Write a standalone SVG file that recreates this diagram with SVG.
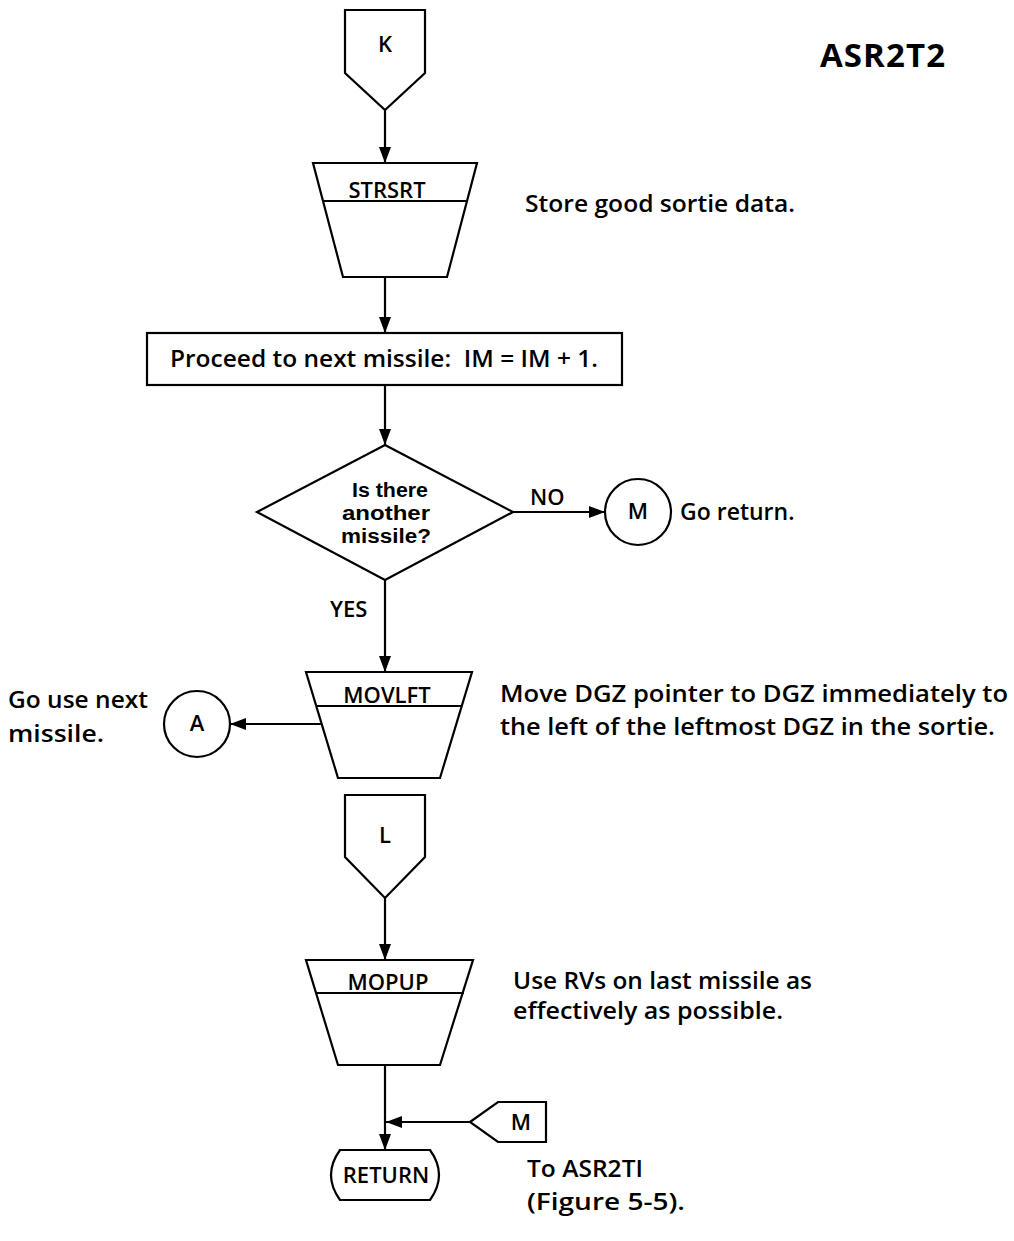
<svg xmlns="http://www.w3.org/2000/svg" width="1014" height="1241" viewBox="0 0 1014 1241">
  <style>
    .shape { fill: none; stroke: #000; stroke-width: 2.2; stroke-linejoin: miter; }
    .wire { fill: none; stroke: #000; stroke-width: 2.2; }
    text { font-family: "Open Sans", "Liberation Sans", sans-serif; font-weight: 600; fill: #000; font-size: 23px; }
    .mid { text-anchor: middle; }
    .lbl { font-size: 22px; }
    .dec { font-family: "Liberation Sans", "Open Sans", sans-serif; font-weight: 700; font-size: 20px; }
    .title { font-size: 33px; font-weight: 700; }
  </style>
  <defs>
    <marker id="arrow" viewBox="0 0 16 12" refX="16" refY="6" markerWidth="16" markerHeight="12" markerUnits="userSpaceOnUse" orient="auto">
      <path d="M0,0 L16,6 L0,12 Z" fill="#000"/>
    </marker>
  </defs>
  <rect width="1014" height="1241" fill="#fff"/>

  <text class="title" x="820" y="67" textLength="125">ASR2T2</text>

  <!-- flow lines -->
  <g id="connectors">
    <line class="wire" x1="385" y1="110" x2="385" y2="163" marker-end="url(#arrow)"/>
    <line class="wire" x1="385" y1="277" x2="385" y2="333" marker-end="url(#arrow)"/>
    <line class="wire" x1="385" y1="385" x2="385" y2="445" marker-end="url(#arrow)"/>
    <line class="wire" x1="513" y1="512" x2="605" y2="512" marker-end="url(#arrow)"/>
    <line class="wire" x1="385" y1="580" x2="385" y2="672" marker-end="url(#arrow)"/>
    <line class="wire" x1="322" y1="724" x2="230" y2="724" marker-end="url(#arrow)"/>
    <line class="wire" x1="385" y1="898" x2="385" y2="960" marker-end="url(#arrow)"/>
    <line class="wire" x1="385" y1="1065" x2="385" y2="1150" marker-end="url(#arrow)"/>
    <line class="wire" x1="470" y1="1122" x2="386" y2="1122" marker-end="url(#arrow)"/>
    <text class="lbl" x="530" y="505">NO</text>
    <text class="lbl" x="330" y="617">YES</text>
  </g>

  <!-- entry connector K -->
  <g id="node-k">
    <polygon class="shape" points="345,10 425,10 425,73 385,110 345,73"/>
    <text class="mid lbl" x="385" y="52">K</text>
  </g>

  <!-- STRSRT -->
  <g id="node-strsrt">
    <polygon class="shape" points="313,163 477,163 447,277 343,277"/>
    <line class="shape" x1="323" y1="201" x2="467" y2="201"/>
    <text class="mid lbl" x="387" y="198">STRSRT</text>
    <text x="525" y="212" textLength="270" lengthAdjust="spacingAndGlyphs">Store good sortie data.</text>
  </g>

  <!-- increment missile -->
  <g id="node-next">
    <rect class="shape" x="147" y="333" width="475" height="52"/>
    <text x="170" y="367" textLength="428" lengthAdjust="spacingAndGlyphs">Proceed to next missile:&#160; IM = IM + 1.</text>
  </g>

  <!-- decision -->
  <g id="node-decision">
    <polygon class="shape" points="385,445 513,512 385,580 257,512"/>
    <text class="mid dec" x="390" y="497" textLength="76" lengthAdjust="spacingAndGlyphs">Is there</text>
    <text class="mid dec" x="386" y="520" textLength="88" lengthAdjust="spacingAndGlyphs">another</text>
    <text class="mid dec" x="386" y="543" textLength="90" lengthAdjust="spacingAndGlyphs">missile?</text>
  </g>

  <!-- M exit -->
  <g id="node-m-out">
    <circle class="shape" cx="638" cy="512" r="33"/>
    <text class="mid lbl" x="638" y="519">M</text>
    <text x="680" y="520">Go return.</text>
  </g>

  <!-- MOVLFT -->
  <g id="node-movlft">
    <polygon class="shape" points="306,672 472,672 440,778 338,778"/>
    <line class="shape" x1="316" y1="706" x2="462" y2="706"/>
    <text class="mid lbl" x="387" y="703">MOVLFT</text>
    <text x="500" y="702" textLength="508" lengthAdjust="spacingAndGlyphs">Move DGZ pointer to DGZ immediately to</text>
    <text x="500" y="735" textLength="495" lengthAdjust="spacingAndGlyphs">the left of the leftmost DGZ in the sortie.</text>
  </g>

  <!-- A exit -->
  <g id="node-a">
    <circle class="shape" cx="197" cy="724" r="33"/>
    <text class="mid lbl" x="197" y="731">A</text>
    <text x="8" y="708" textLength="140" lengthAdjust="spacingAndGlyphs">Go use next</text>
    <text x="8" y="742" textLength="96" lengthAdjust="spacingAndGlyphs">missile.</text>
  </g>

  <!-- entry connector L -->
  <g id="node-l">
    <polygon class="shape" points="345,795 425,795 425,857 385,898 345,857"/>
    <text class="mid lbl" x="385" y="843">L</text>
  </g>

  <!-- MOPUP -->
  <g id="node-mopup">
    <polygon class="shape" points="306,960 473,960 440,1065 338,1065"/>
    <line class="shape" x1="315" y1="993" x2="464" y2="993"/>
    <text class="mid lbl" x="388" y="990">MOPUP</text>
    <text x="513" y="989" textLength="299" lengthAdjust="spacingAndGlyphs">Use RVs on last missile as</text>
    <text x="513" y="1019" textLength="270" lengthAdjust="spacingAndGlyphs">effectively as possible.</text>
  </g>

  <!-- entry connector M -->
  <g id="node-m-in">
    <polygon class="shape" points="470,1122 498,1102 546,1102 546,1142 498,1142"/>
    <text class="mid lbl" x="521" y="1130">M</text>
  </g>

  <!-- RETURN terminal -->
  <g id="node-return">
    <path class="shape" d="M340,1150 L430,1150 Q448,1175 430,1200 L340,1200 Q322,1175 340,1150 Z"/>
    <text class="mid lbl" x="386" y="1183">RETURN</text>
    <text x="527" y="1177" textLength="116" lengthAdjust="spacingAndGlyphs">To ASR2TI</text>
    <text x="527" y="1210" textLength="158" lengthAdjust="spacingAndGlyphs">(Figure 5-5).</text>
  </g>
</svg>
